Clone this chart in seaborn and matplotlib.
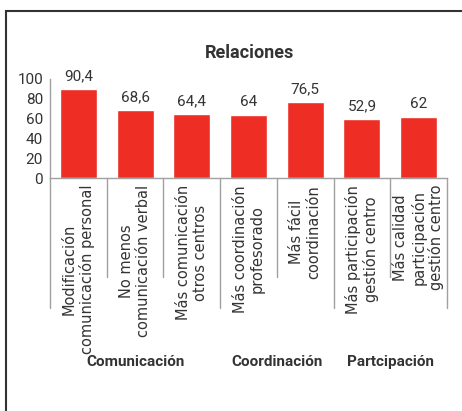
import matplotlib
matplotlib.use("Agg")
import matplotlib.pyplot as plt
import matplotlib.transforms as mtransforms
from matplotlib.patches import Rectangle
import seaborn as sns
import pandas as pd

# ---- data ----
categories = [
    "Modificación\ncomunicación personal",
    "No menos\ncomunicación verbal",
    "Más comunicación\notros centros",
    "Más coordinación\nprofesorado",
    "Más fácil\ncoordinación",
    "Más participación\ngestión centro",
    "Más calidad\nparticipación\ngestión centro",
]
bar_values = [90.4, 68.6, 64.4, 64.0, 76.5, 60.0, 62.0]
value_labels = ["90,4", "68,6", "64,4", "64", "76,5", "52,9", "62"]
groups = ["Comunicación", "Comunicación", "Comunicación",
          "Coordinación", "Coordinación",
          "Partcipación", "Partcipación"]
group_names = ["Comunicación", "Coordinación", "Partcipación"]
yticks = [0, 20, 40, 60, 80, 100]
title = "Relaciones"

sns.set_style("white")
plt.rcParams["font.family"] = ["Roboto", "DejaVu Sans"]
TXT = "#333333"
RED = "#EE2E24"
AX = "#a0a0a0"

W, H = 462, 411
fig = plt.figure(figsize=(W / 100, H / 100), dpi=100)
ax = fig.add_axes([50 / W, 1 - 178 / H, 397 / W, 99 / H])

df = pd.DataFrame({"cat": categories, "val": bar_values})
sns.barplot(data=df, x="cat", y="val", color=RED, saturation=1,
            width=0.65, ax=ax)

ax.set_ylim(0, 100)
ax.set_xlim(-0.5, len(categories) - 0.5)
ax.set_yticks(yticks)
ax.set_yticklabels([str(t) for t in yticks])
ax.set_xlabel("")
ax.set_ylabel("")
ax.tick_params(axis="y", length=0, pad=5, labelsize=11, labelcolor=TXT)
ax.tick_params(axis="x", length=0, pad=5, labelsize=10.5, labelcolor=TXT)
for lab in ax.get_xticklabels():
    lab.set_rotation(90)
    lab.set_ha("center")
    lab.set_va("top")
    lab.set_multialignment("center")
    lab.set_linespacing(1.15)
    lab.set_family(["DejaVu Sans"])

for s in ["top", "right"]:
    ax.spines[s].set_visible(False)
for s in ["left", "bottom"]:
    ax.spines[s].set_color(AX)
    ax.spines[s].set_linewidth(1.0)

ax.bar_label(ax.containers[0], labels=value_labels, padding=4,
             fontsize=11, color=TXT)

# separators below axis
trans = mtransforms.blended_transform_factory(ax.transData, fig.transFigure)
y0 = 1 - 178 / H
for i in range(len(categories) + 1):
    xb = i - 0.5
    left_g = groups[i - 1] if i > 0 else None
    right_g = groups[i] if i < len(groups) else None
    long_ = left_g != right_g
    y1 = 1 - (308 if long_ else 277) / H
    ax.plot([xb, xb], [y0, y1], color=AX, lw=1.0, transform=trans,
            clip_on=False)

# group labels
for g in group_names:
    idx = [i for i, gg in enumerate(groups) if gg == g]
    xc = (min(idx) + max(idx)) / 2
    ax.text(xc, 1 - 362 / H, g, transform=trans, ha="center", va="center",
            fontsize=11, fontweight="bold", color=TXT)

fig.text(250 / W, 1 - 53 / H, title, ha="center", va="center",
         fontsize=13, fontweight="bold", color=TXT)

# frame
fig.patches.append(Rectangle((6 / W, -0.2), 1.2, 1.2 - 11 / H + 0.0,
                             transform=fig.transFigure, fill=False,
                             edgecolor="#333333", lw=1.5))

fig.savefig("out.png", dpi=100)
